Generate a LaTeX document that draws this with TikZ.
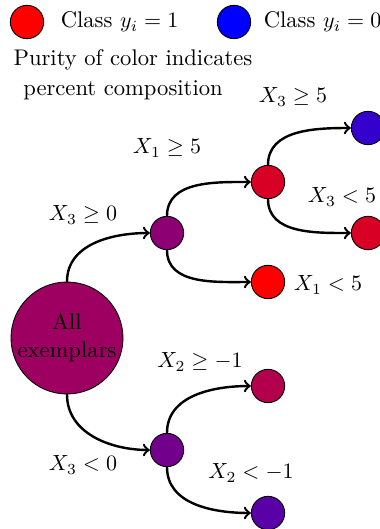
\documentclass[tikz,border=0pt]{standalone}
\usepackage{amsmath}
\usepackage{amssymb}

\begin{document}
\begin{tikzpicture}[
        x=0.016cm,
        y=-0.016cm,
        line cap=round,
        line join=round,
        every node/.style={font=\fontsize{10.3}{12.8}\selectfont},
        leaf/.style={circle, draw, minimum size=15.2pt, inner sep=0pt},
        rootnode/.style={circle, draw, minimum size=51pt, inner sep=0pt, align=center},
        branch/.style={->, line width=1.1pt}
    ]
        \useasboundingbox (0,0) rectangle (379,529);

        % legend
        \node[leaf, fill=red] (keyred) at (27,22) {};
        \node[anchor=west] (keyredtxt) at (53,22) {Class \(y_i = 1\)};
        \node[leaf, fill=blue] (keyblue) at (234,22) {};
        \node[anchor=west] (keybluetxt) at (256,22) {Class \(y_i = 0\)};
        \node (purity1) at (133,60) {Purity of color indicates};
        \node (purity2) at (123,90) {percent composition};

        % tree
        \node[rootnode, fill=red!62!blue] (root) at (67,338) {All\\exemplars};

        \node[leaf, fill=red!55!blue] (a) at (167,233) {};
        \node[leaf, fill=red!85!blue] (aa) at (268,182) {};
        \node[leaf, fill=blue!80!red] (aaa) at (368,128) {};
        \node[leaf, fill=red!85!blue] (aab) at (368,233) {};
        \node[leaf, fill=red] (ab) at (268,282) {};

        \node[leaf, fill=red!45!blue] (b) at (167,450) {};
        \node[leaf, fill=red!70!blue] (ba) at (268,386) {};
        \node[leaf, fill=red!35!blue] (bb) at (268,513) {};

        \draw[branch] (root.north) to[out=90, in=180] (a.west);
        \draw[branch] (a.north) to[out=90, in=180] (aa.west);
        \draw[branch] (aa.north) to[out=90, in=180] (aaa.west);
        \draw[branch] (aa.south) to[out=-90, in=180] (aab.west);
        \draw[branch] (a.south) to[out=-90, in=180] (ab.west);
        \draw[branch] (root.south) to[out=-90, in=180] (b.west);
        \draw[branch] (b.north) to[out=90, in=180] (ba.west);
        \draw[branch] (b.south) to[out=-90, in=180] (bb.west);

        % split labels
        \node (la) at (83,215) {\(X_3 \geq 0\)};
        \node (laa) at (167,148) {\(X_1 \geq 5\)};
        \node (laaa) at (293,97) {\(X_3 \geq 5\)};
        \node (laab) at (342,197) {\(X_3 < 5\)};
        \node (lab) at (328,285) {\(X_1 < 5\)};
        \node (lb) at (83,465) {\(X_3 < 0\)};
        \node (lba) at (200,362) {\(X_2 \geq -1\)};
        \node (lbb) at (251,473) {\(X_2 < -1\)};
    \end{tikzpicture}
\end{document}
